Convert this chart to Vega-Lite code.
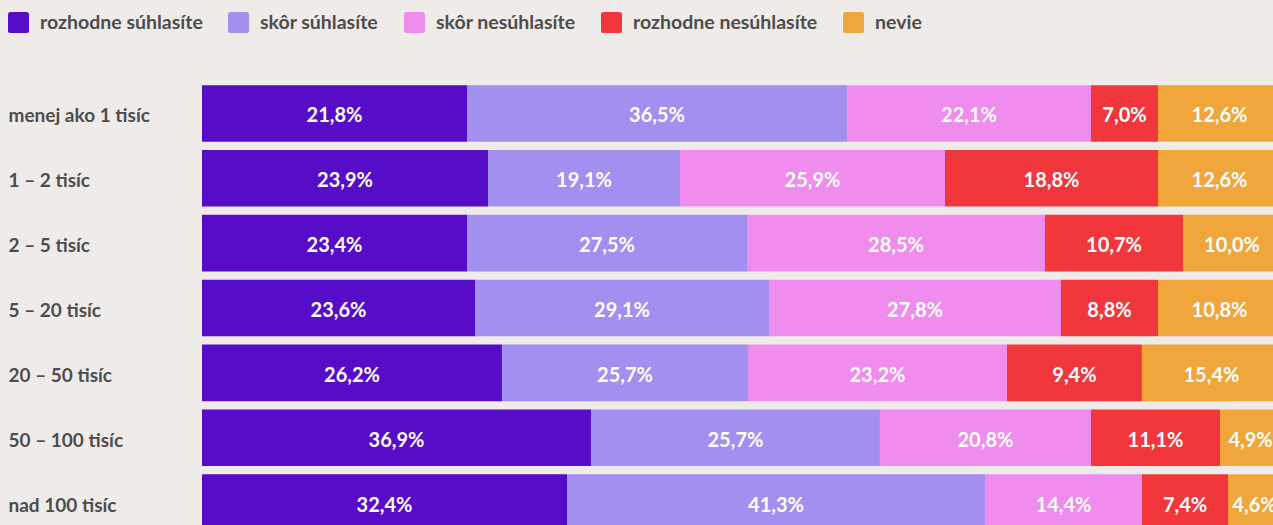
{
  "$schema": "https://vega.github.io/schema/vega-lite/v6.json",
  "autosize": {"type": "none"},
  "width": 1071,
  "height": 444,
  "padding": {"left": 202, "top": 81, "right": 0, "bottom": 0},
  "background": "#efebe8",
  "config": {
    "view": {"stroke": null},
    "font": "Lato",
    "locale": {"number": {"decimal": ",", "thousands": " ", "grouping": [3], "currency": ["", " €"]}}
  },
  "data": {"values": [
    {"velkost": "menej ako 1 tisíc", "odpoved": "rozhodne súhlasíte", "poradie": 1, "dlzka": 24.56, "podiel": 0.218},
    {"velkost": "menej ako 1 tisíc", "odpoved": "skôr súhlasíte", "poradie": 2, "dlzka": 35.22, "podiel": 0.365},
    {"velkost": "menej ako 1 tisíc", "odpoved": "skôr nesúhlasíte", "poradie": 3, "dlzka": 22.61, "podiel": 0.221},
    {"velkost": "menej ako 1 tisíc", "odpoved": "rozhodne nesúhlasíte", "poradie": 4, "dlzka": 6.21, "podiel": 0.070},
    {"velkost": "menej ako 1 tisíc", "odpoved": "nevie", "poradie": 5, "dlzka": 11.40, "podiel": 0.126},
    {"velkost": "1 – 2 tisíc", "odpoved": "rozhodne súhlasíte", "poradie": 1, "dlzka": 26.51, "podiel": 0.239},
    {"velkost": "1 – 2 tisíc", "odpoved": "skôr súhlasíte", "poradie": 2, "dlzka": 17.79, "podiel": 0.191},
    {"velkost": "1 – 2 tisíc", "odpoved": "skôr nesúhlasíte", "poradie": 3, "dlzka": 24.56, "podiel": 0.259},
    {"velkost": "1 – 2 tisíc", "odpoved": "rozhodne nesúhlasíte", "poradie": 4, "dlzka": 19.74, "podiel": 0.188},
    {"velkost": "1 – 2 tisíc", "odpoved": "nevie", "poradie": 5, "dlzka": 11.40, "podiel": 0.126},
    {"velkost": "2 – 5 tisíc", "odpoved": "rozhodne súhlasíte", "poradie": 1, "dlzka": 24.56, "podiel": 0.234},
    {"velkost": "2 – 5 tisíc", "odpoved": "skôr súhlasíte", "poradie": 2, "dlzka": 25.95, "podiel": 0.275},
    {"velkost": "2 – 5 tisíc", "odpoved": "skôr nesúhlasíte", "poradie": 3, "dlzka": 27.62, "podiel": 0.285},
    {"velkost": "2 – 5 tisíc", "odpoved": "rozhodne nesúhlasíte", "poradie": 4, "dlzka": 12.79, "podiel": 0.107},
    {"velkost": "2 – 5 tisíc", "odpoved": "nevie", "poradie": 5, "dlzka": 9.08, "podiel": 0.100},
    {"velkost": "5 – 20 tisíc", "odpoved": "rozhodne súhlasíte", "poradie": 1, "dlzka": 25.30, "podiel": 0.236},
    {"velkost": "5 – 20 tisíc", "odpoved": "skôr súhlasíte", "poradie": 2, "dlzka": 27.25, "podiel": 0.291},
    {"velkost": "5 – 20 tisíc", "odpoved": "skôr nesúhlasíte", "poradie": 3, "dlzka": 27.06, "podiel": 0.278},
    {"velkost": "5 – 20 tisíc", "odpoved": "rozhodne nesúhlasíte", "poradie": 4, "dlzka": 8.99, "podiel": 0.088},
    {"velkost": "5 – 20 tisíc", "odpoved": "nevie", "poradie": 5, "dlzka": 11.40, "podiel": 0.108},
    {"velkost": "20 – 50 tisíc", "odpoved": "rozhodne súhlasíte", "poradie": 1, "dlzka": 27.80, "podiel": 0.262},
    {"velkost": "20 – 50 tisíc", "odpoved": "skôr súhlasíte", "poradie": 2, "dlzka": 22.80, "podiel": 0.257},
    {"velkost": "20 – 50 tisíc", "odpoved": "skôr nesúhlasíte", "poradie": 3, "dlzka": 24.00, "podiel": 0.232},
    {"velkost": "20 – 50 tisíc", "odpoved": "rozhodne nesúhlasíte", "poradie": 4, "dlzka": 12.51, "podiel": 0.094},
    {"velkost": "20 – 50 tisíc", "odpoved": "nevie", "poradie": 5, "dlzka": 12.89, "podiel": 0.154},
    {"velkost": "50 – 100 tisíc", "odpoved": "rozhodne súhlasíte", "poradie": 1, "dlzka": 36.05, "podiel": 0.369},
    {"velkost": "50 – 100 tisíc", "odpoved": "skôr súhlasíte", "poradie": 2, "dlzka": 26.78, "podiel": 0.257},
    {"velkost": "50 – 100 tisíc", "odpoved": "skôr nesúhlasíte", "poradie": 3, "dlzka": 19.56, "podiel": 0.208},
    {"velkost": "50 – 100 tisíc", "odpoved": "rozhodne nesúhlasíte", "poradie": 4, "dlzka": 11.96, "podiel": 0.111},
    {"velkost": "50 – 100 tisíc", "odpoved": "nevie", "poradie": 5, "dlzka": 5.65, "podiel": 0.049},
    {"velkost": "nad 100 tisíc", "odpoved": "rozhodne súhlasíte", "poradie": 1, "dlzka": 33.83, "podiel": 0.324},
    {"velkost": "nad 100 tisíc", "odpoved": "skôr súhlasíte", "poradie": 2, "dlzka": 38.74, "podiel": 0.413},
    {"velkost": "nad 100 tisíc", "odpoved": "skôr nesúhlasíte", "poradie": 3, "dlzka": 14.55, "podiel": 0.144},
    {"velkost": "nad 100 tisíc", "odpoved": "rozhodne nesúhlasíte", "poradie": 4, "dlzka": 7.97, "podiel": 0.074},
    {"velkost": "nad 100 tisíc", "odpoved": "nevie", "poradie": 5, "dlzka": 4.91, "podiel": 0.046}
  ]},
  "transform": [
    {"stack": "dlzka", "groupby": ["velkost"], "sort": [{"field": "poradie", "order": "ascending"}], "as": ["x0", "x1"]}
  ],
  "encoding": {
    "y": {
      "field": "velkost",
      "type": "nominal",
      "sort": ["menej ako 1 tisíc", "1 – 2 tisíc", "2 – 5 tisíc", "5 – 20 tisíc", "20 – 50 tisíc", "50 – 100 tisíc", "nad 100 tisíc"],
      "scale": {"range": [0, 454], "paddingInner": 0.128, "paddingOuter": 0.064},
      "axis": {
        "title": null, "domain": false, "ticks": false, "labelAlign": "left", "labelPadding": 194,
        "labelFont": "Lato", "labelFontSize": 19, "labelFontWeight": "bold", "labelColor": "#4d4d4d",
        "labelLimit": 300, "labelBaseline": "middle", "labelOffset": 3
      }
    }
  },
  "layer": [
    {
      "mark": {"type": "bar"},
      "encoding": {
        "x": {"field": "x0", "type": "quantitative", "scale": {"domain": [0, 100], "range": [0, 1079], "nice": false, "zero": false}, "axis": null},
        "x2": {"field": "x1"},
        "color": {
          "field": "odpoved",
          "type": "nominal",
          "scale": {
            "domain": ["rozhodne súhlasíte", "skôr súhlasíte", "skôr nesúhlasíte", "rozhodne nesúhlasíte", "nevie"],
            "range": ["#570cc8", "#a28ff0", "#ef8ced", "#f1363c", "#f0a63a"]
          },
          "legend": {
            "title": null, "orient": "none", "direction": "horizontal", "legendX": -194, "legendY": -69,
            "padding": 0, "columnPadding": 25, "labelOffset": 11,
            "symbolType": "M -0.75 -1 L 0.75 -1 Q 1 -1 1 -0.75 L 1 0.75 Q 1 1 0.75 1 L -0.75 1 Q -1 1 -1 0.75 L -1 -0.75 Q -1 -1 -0.75 -1 Z",
            "symbolSize": 441, "symbolStrokeWidth": 0, "symbolOpacity": 1,
            "labelFont": "Lato", "labelFontSize": 19.5, "labelFontWeight": "bold", "labelColor": "#4d4d4d", "labelLimit": 400
          }
        }
      }
    },
    {
      "transform": [
        {"fold": ["x0", "x1"], "as": ["okraj", "pozicia"]},
        {"aggregate": [{"op": "mean", "field": "pozicia", "as": "stred"}], "groupby": ["velkost", "odpoved", "podiel"]}
      ],
      "mark": {"type": "text", "color": "white", "font": "Lato", "fontSize": 20, "fontWeight": "bold", "baseline": "middle", "align": "center", "dy": 3},
      "encoding": {
        "x": {"field": "stred", "type": "quantitative"},
        "text": {"field": "podiel", "type": "quantitative", "format": ".1%"}
      }
    }
  ]
}
